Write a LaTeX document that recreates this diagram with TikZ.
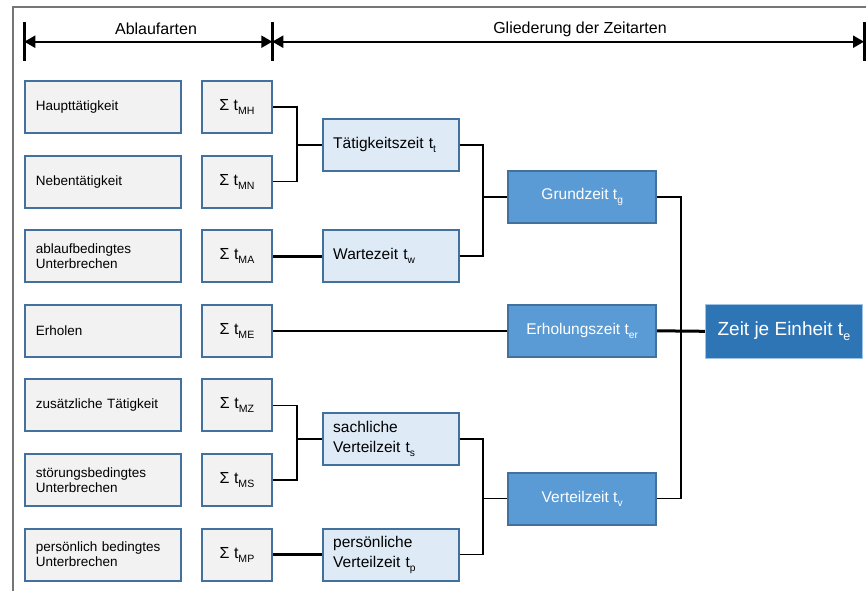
\documentclass[tikz,border=0pt]{standalone}
\usepackage{fontspec}
\setmainfont{Liberation Sans}
\usepackage{graphicx}
\usepackage{tikz}
\usetikzlibrary{arrows.meta, positioning, calc}
\definecolor{rahmen}{HTML}{767676}
\definecolor{kante}{HTML}{41719C}
\definecolor{grau}{HTML}{F2F2F2}
\definecolor{hellblau}{HTML}{DEEBF7}
\definecolor{mittelblau}{HTML}{5B9BD5}
\definecolor{dunkelblau}{HTML}{2E75B6}
\definecolor{dunkelkante}{HTML}{9DC3E6}
\newcommand{\idx}[1]{\raisebox{-0.25em}{\scalebox{0.66}{#1}}}

\begin{document}
\begin{tikzpicture}[x=1pt, y=-1pt, >={Triangle[length=11pt, width=12pt]},
  ablauf/.style={draw=kante, fill=grau, line width=2pt, text width=134pt, inner xsep=11pt,
    minimum height=52pt, align=left, font=\fontsize{13.5}{15}\selectfont},
  summe/.style={draw=kante, fill=grau, line width=2pt, minimum width=70pt, minimum height=52pt,
    font=\fontsize{16}{19}\selectfont},
  zeit/.style={draw=kante, fill=hellblau, line width=2pt, text width=115pt, inner xsep=10.5pt,
    minimum height=52pt, align=left, font=\fontsize{15.5}{20}\selectfont},
  haupt/.style={draw=kante, fill=mittelblau, text=white, line width=2pt, minimum width=148pt,
    minimum height=52pt, font=\fontsize{15.5}{19}\selectfont},
  gesamt/.style={draw=dunkelkante, fill=dunkelblau, text=white, line width=1pt, minimum width=157pt,
    minimum height=54pt, font=\fontsize{19}{22}\selectfont},
  kopf/.style={font=\fontsize{16}{19}\selectfont},
  linie/.style={line width=1.6pt},
  dick/.style={line width=2.6pt}]
  \useasboundingbox (0,0) rectangle (866,590);

  % Rahmen
  \draw[rahmen, line width=2.2pt] (12.7,592) -- (12.7,6.7) -- (868,6.7);

  % Bemassung oben
  \coordinate (dl) at (24.3,41.7);
  \coordinate (dm) at (272.3,41.7);
  \coordinate (dr) at (864,41.7);
  \draw[line width=3pt] ($(dl)+(0,-19.5)$) -- ($(dl)+(0,19.5)$);
  \draw[line width=3pt] ($(dm)+(0,-19.5)$) -- ($(dm)+(0,19.5)$);
  \draw[line width=3pt] ($(dr)+(0,-19.5)$) -- ($(dr)+(0,19.5)$);
  \draw[line width=2.2pt, <->] (dl) -- (dm);
  \draw[line width=2.2pt, <->] (dm) -- (dr);
  \node[kopf] (lab1) at (156,29) {Ablaufarten};
  \node[kopf] (lab2) at (580,29) {Gliederung der Zeitarten};

  % Ablaufarten
  \node[ablauf] (haupt) at (102.8,107) {Haupttätigkeit};
  \node[ablauf] (neben) at (102.8,181.6) {Nebentätigkeit};
  \node[ablauf] (ablauf) at (102.8,256.2) {ablaufbedingtes\\Unterbrechen};
  \node[ablauf] (erholen) at (102.8,330.8) {Erholen};
  \node[ablauf] (zusatz) at (102.8,405.4) {zusätzliche Tätigkeit};
  \node[ablauf] (stoerung) at (102.8,480) {störungsbedingtes\\Unterbrechen};
  \node[ablauf] (persoenlich) at (102.8,554.6) {persönlich bedingtes\\Unterbrechen};

  % Summen
  \node[summe] (sMH) at (237,107) {Σ t\idx{MH}};
  \node[summe] (sMN) at (237,181.6) {Σ t\idx{MN}};
  \node[summe] (sMA) at (237,256.2) {Σ t\idx{MA}};
  \node[summe] (sME) at (237,330.8) {Σ t\idx{ME}};
  \node[summe] (sMZ) at (237,405.4) {Σ t\idx{MZ}};
  \node[summe] (sMS) at (237,480) {Σ t\idx{MS}};
  \node[summe] (sMP) at (237,554.6) {Σ t\idx{MP}};

  % Zeitarten
  \node[zeit] (tt) at (390.7,145) {Tätigkeitszeit t\idx{t}};
  \node[zeit] (tw) at (390.7,256.2) {Wartezeit t\idx{w}};
  \node[zeit] (ts) at (390.7,439) {sachliche\\Verteilzeit t\idx{s}};
  \node[zeit] (tp) at (390.7,554.6) {persönliche\\Verteilzeit t\idx{p}};

  \node[haupt] (tg) at (582.2,197) {Grundzeit t\idx{g}};
  \node[haupt] (ter) at (582.2,330.8) {Erholungszeit t\idx{er}};
  \node[haupt] (tv) at (582.2,498.5) {Verteilzeit t\idx{v}};

  \node[gesamt] (te) at (783.9,331.3) {Zeit je Einheit t\idx{e}};

  % Verbindungen
  \coordinate (j1) at ($(tt.west)+(-25,0)$);
  \draw[linie] (sMH.east) -| (j1) -- (tt.west);
  \draw[linie] (sMN.east) -| (j1);
  \draw[dick] (sMA.east) -- (tw.west);

  \coordinate (j2) at ($(tg.west)+(-24.5,0)$);
  \draw[linie] (tt.east) -| (j2) -- (tg.west);
  \draw[linie] (tw.east) -| (j2);

  \draw[dick] (sME.east) -- (ter.west);

  \coordinate (j3) at ($(ts.west)+(-25,0)$);
  \draw[linie] (sMZ.east) -| (j3) -- (ts.west);
  \draw[linie] (sMS.east) -| (j3);
  \draw[dick] (sMP.east) -- (tp.west);

  \coordinate (j4) at ($(tv.west)+(-24.5,0)$);
  \draw[linie] (ts.east) -| (j4) -- (tv.west);
  \draw[linie] (tp.east) -| (j4);

  \coordinate (j5) at ($(ter.east)!0.5!(te.west)$);
  \draw[linie] (tg.east) -| (j5) |- (tv.east);
  \draw[line width=3pt] (ter.east) -- (te.west);
\end{tikzpicture}
\end{document}
